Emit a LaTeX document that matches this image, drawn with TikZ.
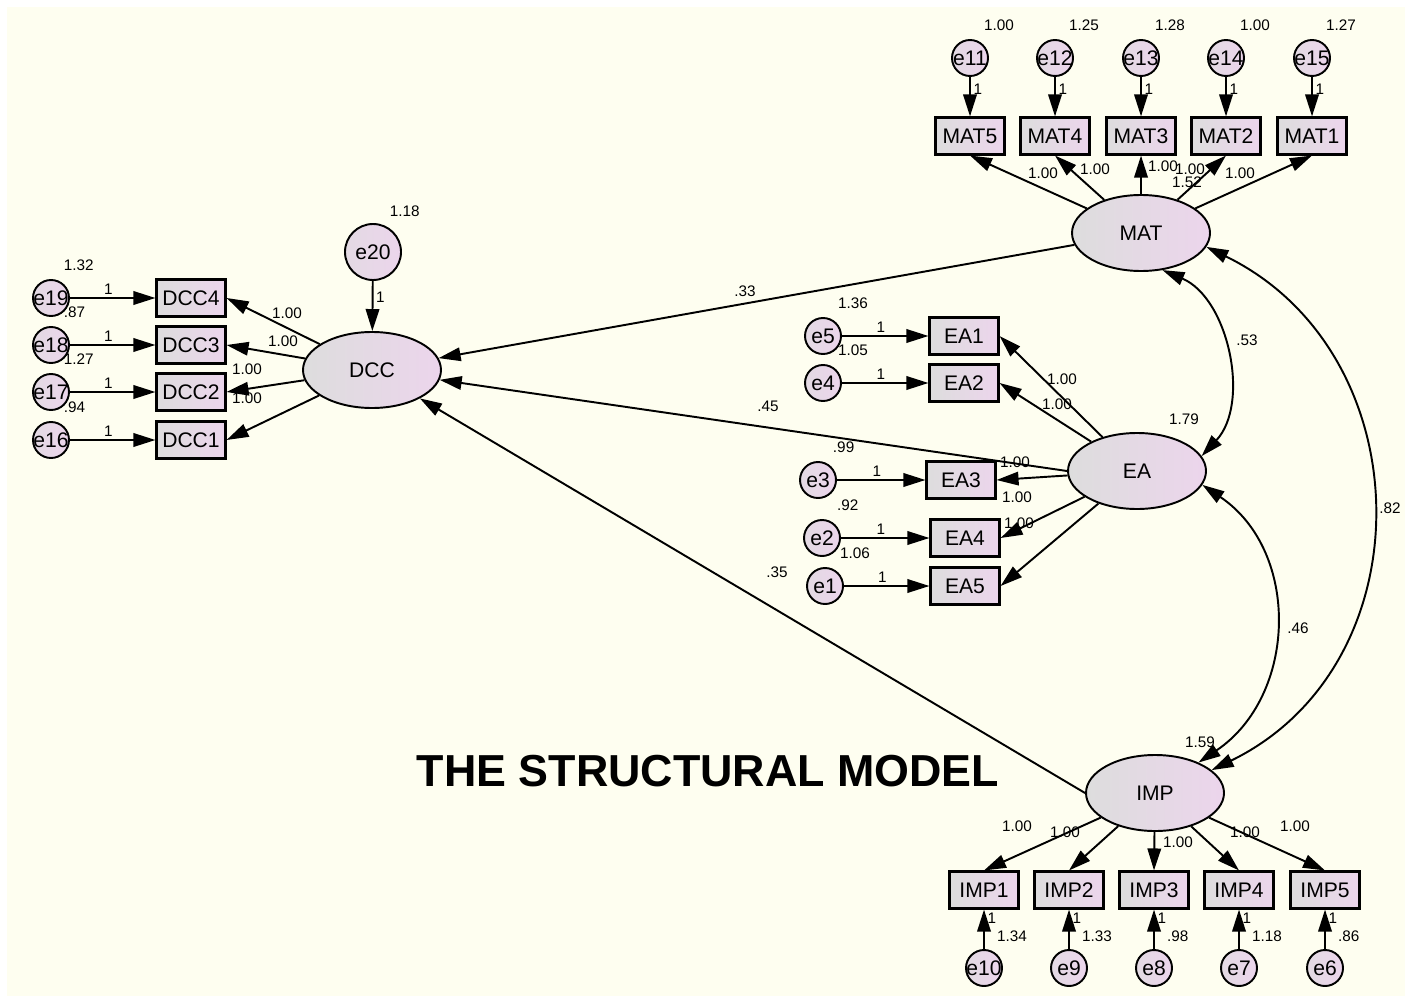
\documentclass[tikz,border=0pt]{standalone}
\usepackage{fontspec}
\setmainfont{Liberation Sans}
\usetikzlibrary{arrows.meta,shapes.geometric}

\definecolor{Amoscream}{HTML}{FEFEF0}
\definecolor{Amosgrey}{HTML}{DDDDDD}
\definecolor{Amospink}{HTML}{ECD5EC}

\tikzset{
	latent/.style={ellipse,draw,line width=1.1pt,minimum width=27.6mm,
		minimum height=15.2mm,left color=Amosgrey,right color=Amospink,
		font=\fontsize{12}{14}\selectfont},
	observed/.style={rectangle,draw,line width=1.2pt,minimum width=13.8mm,
		minimum height=7.4mm,inner sep=0pt,left color=Amosgrey,
		right color=Amospink,font=\fontsize{12}{14}\selectfont},
	errvar/.style={circle,draw,line width=1.1pt,minimum size=7.2mm,inner sep=0pt,
		left color=Amosgrey!60!Amospink,right color=Amospink,
		font=\fontsize{12}{14}\selectfont},
	num/.style={font=\fontsize{8.7}{10}\selectfont,inner sep=1.5pt},
	reg/.style={-{Triangle[length=4.4mm,width=2.7mm]},line width=1.1pt},
	cov/.style={{Triangle[length=4.4mm,width=2.7mm]}-{Triangle[length=4.4mm,width=2.7mm]},
		line width=1.1pt}
}

\begin{document}
\begin{tikzpicture}[x=0.2mm,y=0.2mm]
	\useasboundingbox[fill=white] (0,0) rectangle (1415,-996);
	\fill[Amoscream] (7,-7) rectangle (1405,-996);

	% latent variables
	\node[latent] (DCC) at (372,-370) {DCC};
	\node[latent] (MAT) at (1141,-233) {MAT};
	\node[latent] (EA) at (1137,-471) {EA};
	\node[latent] (IMP) at (1155,-793) {IMP};

	\node[errvar,minimum size=11.2mm] (e20) at (373,-252) {e20};
	\draw[reg] (e20) -- node[num,right,pos=.33] (w20) {1} (DCC);
	\node[num,anchor=west] (v20) at ([shift={(14,41)}]e20.center) {1.18};

	% DCC indicators
	\foreach \n/\y/\v in {4/298/1.32,3/345/.87,2/392/1.27,1/440/.94}{
			\pgfmathtruncatemacro\e{15+\n}
			\node[observed] (DCC\n) at (191,-\y) {DCC\n};
			\node[errvar] (e\e) at (51,-\y) {\makebox[0pt]{e\e}};
			\node[num,anchor=west] (v\e) at ([shift={(10,33)}]e\e.center) {\v};
			\draw[reg] (e\e) -- node[num,above,pos=.45] (w\e) {1} (DCC\n.west);
			\draw[reg] (DCC) -- (DCC\n.east);}
	\foreach \x/\y [count=\i] in {287/313,283/341,247/369,247/398}
		\node[num] (ldcc\i) at (\x,-\y) {1.00};

	% MAT indicators
	\foreach \n/\x/\v [count=\e from 11] in {5/970/1.00,4/1055/1.25,3/1141/1.28,2/1226/1.00,1/1312/1.27}{
			\node[observed] (MAT\n) at (\x,-136) {MAT\n};
			\node[errvar] (e\e) at (\x,-58) {\makebox[0pt]{e\e}};
			\node[num,anchor=west] (v\e) at ([shift={(11,33)}]e\e.center) {\v};
			\draw[reg] (e\e) -- node[num,right,pos=.3] (w\e) {1} (MAT\n.north);
			\draw[reg] (MAT) -- (MAT\n.south);}
	\foreach \x/\y [count=\i] in {1043/173,1095/169,1163/166,1190/169,1240/173}
		\node[num] (lmat\i) at (\x,-\y) {1.00};
	\node[num,anchor=west] (vmat) at ([shift={(28,51)}]MAT.center) {1.52};

	% EA indicators
	\foreach \n/\x/\ex/\y/\v in {1/964/823/336/1.36,2/964/823/383/1.05,3/961/818/480/.99,4/965/822/538/.92,5/965/825/586/1.06}{
			\pgfmathtruncatemacro\e{6-\n}
			\node[observed] (EA\n) at (\x,-\y) {EA\n};
			\node[errvar] (e\e) at (\ex,-\y) {\makebox[0pt]{e\e}};
			\node[num,anchor=west] (v\e) at ([shift={(12,33)}]e\e.center) {\v};
			\draw[reg] (e\e) -- node[num,above,pos=.45] (w\e) {1} (EA\n.west);
			\draw[reg] (EA) -- (EA\n.east);}
	\foreach \x/\y [count=\i] in {1062/379,1057/404,1015/462,1017/497,1019/523}
		\node[num] (lea\i) at (\x,-\y) {1.00};
	\node[num,anchor=west] (vea) at ([shift={(29,52)}]EA.center) {1.79};

	% IMP indicators
	\foreach \n/\x/\v in {1/984/1.34,2/1069/1.33,3/1154/.98,4/1239/1.18,5/1325/.86}{
			\pgfmathtruncatemacro\e{11-\n}
			\node[observed] (IMP\n) at (\x,-890) {IMP\n};
			\node[errvar] (e\e) at (\x,-968) {\makebox[0pt]{e\e}};
			\node[num,anchor=west] (v\e) at ([shift={(10,32)}]e\e.center) {\v};
			\draw[reg] (e\e) -- node[num,right,pos=.77] (w\e) {1} (IMP\n.south);
			\draw[reg] (IMP) -- (IMP\n.north);}
	\foreach \x/\y [count=\i] in {1017/826,1065/832,1178/842,1245/832,1295/826}
		\node[num] (limp\i) at (\x,-\y) {1.00};
	\node[num,anchor=west] (vimp) at ([shift={(27,51)}]IMP.center) {1.59};

	% structural paths
	\draw[reg] (MAT) -- (DCC);
	\draw[reg] (EA.west) -- (DCC);
	\draw[reg] (IMP.west) -- (DCC);
	\node[num] (bmat) at (745,-291) {.33};
	\node[num] (bea) at (768,-406) {.45};
	\node[num] (bimp) at (777,-572) {.35};

	% covariances
	\draw[cov] (MAT.-60) .. controls +(-23:72) and +(47:72) .. (EA.13);
	\draw[cov] (EA.-12) .. controls +(-34:119) and +(34:119) .. (IMP.35);
	\draw[cov] (MAT.-12) .. controls +(-26:241) and +(26:241) .. (IMP.22);
	\node[num] (cmatea) at (1247,-340) {.53};
	\node[num] (ceaimp) at (1298,-628) {.46};
	\node[num] (cmatimp) at (1390,-508) {.82};

	\node[font=\bfseries\fontsize{25.5}{30}\selectfont] (title) at (708,-771) {THE STRUCTURAL MODEL};
\end{tikzpicture}
\end{document}
